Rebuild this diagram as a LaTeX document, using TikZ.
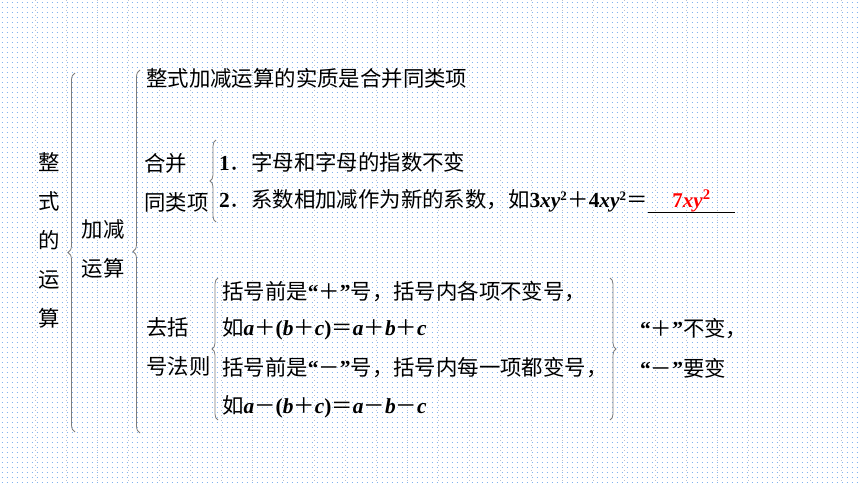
\documentclass[tikz,border=0pt]{standalone}
\usepackage{fontspec}
\setmainfont{Liberation Serif}
\newfontfamily\cjk{Noto Sans CJK SC}
\newfontfamily\lat{Liberation Serif}
\usetikzlibrary{decorations.pathreplacing}
\usepackage{xcolor}
\definecolor{dotblue}{RGB}{130,180,240}
\definecolor{dotgray}{RGB}{190,195,205}
\definecolor{bracegray}{RGB}{125,125,125}
\definecolor{ansred}{RGB}{255,0,0}
\newcommand\vb[1]{{\lat\bfseries\itshape #1}}
\newcommand\nb[1]{{\lat\bfseries #1}}
\newcommand\sq{\textsuperscript{\nb{\fontsize{13}{13}\selectfont 2}}}

\begin{document}
\begin{tikzpicture}[
			x=1pt, y=-1pt,
			txt/.style={anchor=west, inner sep=0pt, font=\cjk\fontsize{21.4}{39}\selectfont},
			stack/.style={inner sep=0pt, align=center, font=\cjk\fontsize{21.4}{39}\selectfont},
			curly/.style={decorate, decoration={brace, amplitude=#1}, draw=bracegray, line width=0.8pt},
			blank/.style={anchor=west, inner sep=0pt, minimum width=86pt, minimum height=20pt,
				text=ansred, font=\lat\bfseries\fontsize{21}{21}\selectfont}
			]
			% dotted paper
			\useasboundingbox (0,0) rectangle (860,484);
			\fill[white] (0,0) rectangle (860,484);
			\foreach \r in {0,...,96}
				\draw[dotblue, line width=1.1pt, dash pattern=on 1.1pt off 3.9pt] (1.5,\r*5+2.5) -- (860,\r*5+2.5);
			\foreach \c in {0,...,26}
				\draw[dotgray, line width=0.9pt, dash pattern=on 0.9pt off 4.1pt] (35+\c*31,0) -- (35+\c*31,484);
			
			% left labels
			\node[stack] (topic) at (49,240) {整\\式\\的\\运\\算};
			\node[stack] (addsub) at (103,249) {加减\\运算};
			
			% braces
			\coordinate (b1s) at (75,432);
			\coordinate (b1e) at (75,73);
			\draw[curly=7pt] (b1s) -- (b1e);
			\coordinate (b2s) at (140,433);
			\coordinate (b2e) at (140,70);
			\draw[curly=7pt] (b2s) -- (b2e);
			\coordinate (b3s) at (216,222);
			\coordinate (b3e) at (216,140);
			\draw[curly=6pt] (b3s) -- (b3e);
			\coordinate (b4s) at (218,420);
			\coordinate (b4e) at (218,278);
			\draw[curly=6pt] (b4s) -- (b4e);
			\coordinate (b5s) at (610,278);
			\coordinate (b5e) at (610,420);
			\draw[curly=6pt] (b5s) -- (b5e);
			
			% first branch
			\node[txt] (essence) at (146,78) {整式加减运算的实质是合并同类项};
			\node[txt, align=left] (merge) at (144,182.5) {合并\\同类项};
			\node[txt] (rowA) at (219,162) {\nb{1}．字母和字母的指数不变};
			\node[txt] (rowB) at (219,201) {\nb{2}．系数相加减作为新的系数，如\nb{3}\vb{xy}\sq＋\nb{4}\vb{xy}\sq＝};
			\node[blank] (ans) at (rowB.east) {\raisebox{4pt}{7\textit{xy}\textsuperscript{2}}};
			\draw[line width=1pt] (ans.south west) -- (ans.south east);
			
			% second branch
			\node[txt, align=left] (remove) at (146,347) {去括\\号法则};
			\node[txt] (plusA) at (222,292) {括号前是{\lat\bfseries “}＋{\lat\bfseries ”}号，括号内各项不变号，};
			\node[txt] (plusB) at (222,329) {如\vb{a}＋\nb{(}\vb{b}＋\vb{c}\nb{)}＝\vb{a}＋\vb{b}＋\vb{c}};
			\node[txt] (minusA) at (222,368) {括号前是{\lat\bfseries “}－{\lat\bfseries ”}号，括号内每一项都变号，};
			\node[txt] (minusB) at (222,407) {如\vb{a}－\nb{(}\vb{b}＋\vb{c}\nb{)}＝\vb{a}－\vb{b}－\vb{c}};
			\node[txt] (sumA) at (640,329) {{\lat\bfseries “}＋{\lat\bfseries ”}不变，};
			\node[txt] (sumB) at (640,368) {{\lat\bfseries “}－{\lat\bfseries ”}要变};
		\end{tikzpicture}
\end{document}
